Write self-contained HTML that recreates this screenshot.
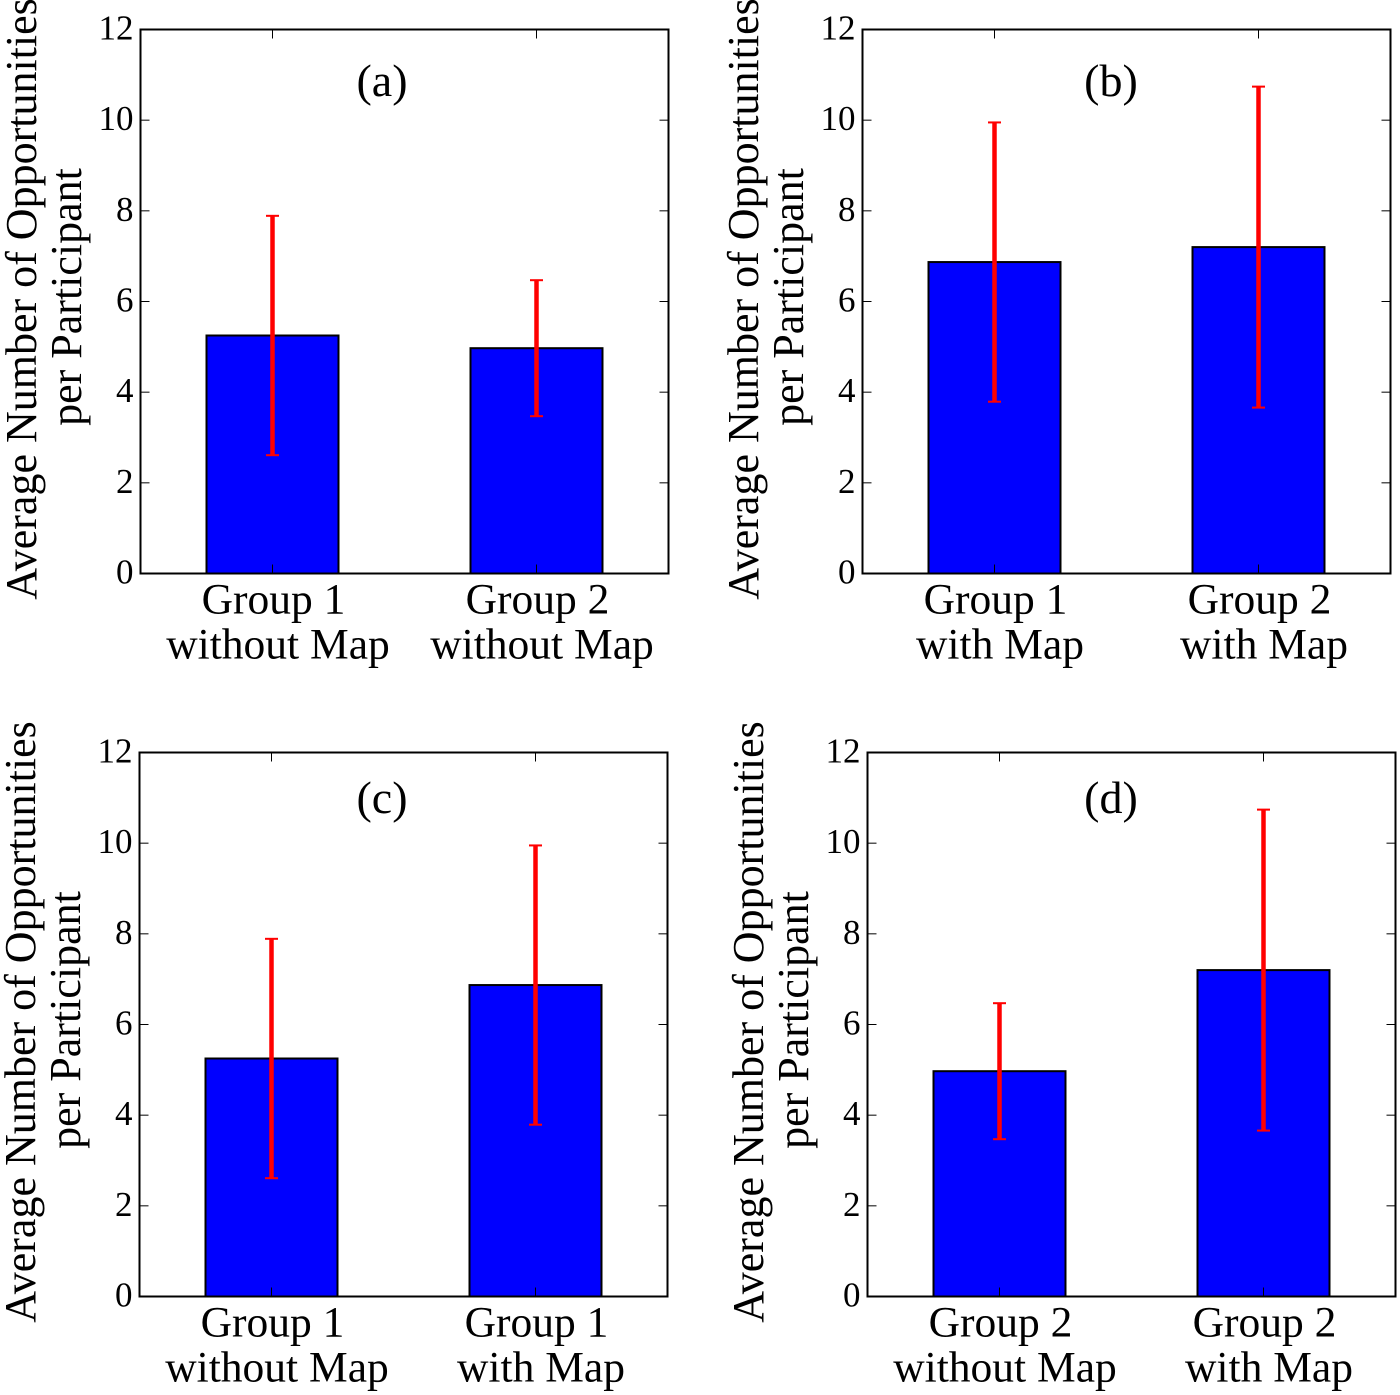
<!DOCTYPE html>
<html>
<head>
<meta charset="utf-8">
<title>Average Number of Opportunities per Participant</title>
<style>
html,body{margin:0;padding:0;background:#fff;width:1400px;height:1395px;overflow:hidden}
svg{display:block}
text{font-family:"Liberation Serif","Times New Roman",serif;fill:#000}
</style>
</head>
<body>
<svg id="chart" xmlns="http://www.w3.org/2000/svg" width="1400" height="1395" viewBox="0 0 1400 1395"></svg>
<script>
// ----- data -----
const panelIds = ['a', 'b', 'c', 'd'];
const categoriesA = [['Group 1', 'without Map'], ['Group 2', 'without Map']];
const categoriesB = [['Group 1', 'with Map'], ['Group 2', 'with Map']];
const categoriesC = [['Group 1', 'without Map'], ['Group 1', 'with Map']];
const categoriesD = [['Group 2', 'without Map'], ['Group 2', 'with Map']];
const meansA = [5.25, 4.97];
const meansB = [6.87, 7.2];
const meansC = [5.25, 6.87];
const meansD = [4.97, 7.2];
const errorsA = [2.64, 1.5];
const errorsB = [3.08, 3.54];
const errorsC = [2.64, 3.08];
const errorsD = [1.5, 3.54];
const yTicks = [0, 2, 4, 6, 8, 10, 12];
const yLabelLines = ['Average Number of Opportunities', 'per Participant'];

const allCategories = [categoriesA, categoriesB, categoriesC, categoriesD];
const allMeans = [meansA, meansB, meansC, meansD];
const allErrors = [errorsA, errorsB, errorsC, errorsD];

// ----- layout -----
const frames = [
  {left: 140.5, top: 29.5, titleX: 382, titleY: 96},
  {left: 862.5, top: 29.5, titleX: 1111, titleY: 96},
  {left: 139.5, top: 752.5, titleX: 382, titleY: 813},
  {left: 867.5, top: 752.5, titleX: 1111, titleY: 813}
];
const plotW = 528, plotH = 544;
const xMin = -0.5, xMax = 1.5, yMin = 0, yMax = 12, barWidth = 0.5;
const svg = document.getElementById('chart');
const NS = 'http://www.w3.org/2000/svg';

function make(tag, attrs, parent, txt) {
  const el = document.createElementNS(NS, tag);
  for (const k in attrs) el.setAttribute(k, attrs[k]);
  if (txt !== undefined) el.textContent = txt;
  parent.appendChild(el);
  return el;
}

panelIds.forEach(function (id, p) {
  const f = frames[p];
  const cats = allCategories[p], means = allMeans[p], errs = allErrors[p];
  const xs = function (v) { return f.left + (v - xMin) / (xMax - xMin) * plotW; };
  const ys = function (v) { return f.top + plotH - (v - yMin) / (yMax - yMin) * plotH; };
  const bottom = ys(yMin), top = ys(yMax), left = xs(xMin), right = xs(xMax);

  const g = make('g', {}, svg);
  
  

  means.forEach(function (m, i) {
    const x0 = xs(i - barWidth / 2), x1 = xs(i + barWidth / 2);
    const bar = make('rect', {x: x0, y: ys(m), width: x1 - x0, height: bottom - ys(m), fill: '#0000ff', stroke: '#000', 'stroke-width': 2}, g);
    
    
  });

  const frame = make('rect', {x: left, y: top, width: right - left, height: bottom - top, fill: 'none', stroke: '#000', 'stroke-width': 2}, g);
  
  

  yTicks.forEach(function (t) {
    const y = ys(t);
    const tl = make('line', {x1: left, x2: left + 9, y1: y, y2: y, stroke: '#000', 'stroke-width': 1}, g);
    
    
    const tr = make('line', {x1: right - 9, x2: right, y1: y, y2: y, stroke: '#000', 'stroke-width': 1}, g);
    
    
    const lab = make('text', {x: left - 7, y: y + 10, 'text-anchor': 'end', 'font-size': 35}, g, String(t));
    
    
  });

  cats.forEach(function (c, i) {
    const x = xs(i);
    const tb = make('line', {x1: x, x2: x, y1: bottom, y2: bottom - 9, stroke: '#000', 'stroke-width': 1}, g);
    
    
    const tt = make('line', {x1: x, x2: x, y1: top, y2: top + 9, stroke: '#000', 'stroke-width': 1}, g);
    
    
    const l1 = make('text', {x: x + 1, y: bottom + 40, 'text-anchor': 'middle', 'font-size': 43.5}, g, c[0]);
    
    
    const l2 = make('text', {x: x + 5.5, y: bottom + 85, 'text-anchor': 'middle', 'font-size': 43.5}, g, c[1]);
    
    
  });

  means.forEach(function (m, i) {
    const x = xs(i), hi = ys(m + errs[i]), lo = ys(m - errs[i]);
    const stem = make('line', {x1: x, x2: x, y1: hi, y2: lo, stroke: '#ff0000', 'stroke-width': 4.5}, g);
    
    
    const capHi = make('line', {x1: x - 6.5, x2: x + 6.5, y1: hi, y2: hi, stroke: '#ff0000', 'stroke-width': 2}, g);
    
    
    const capLo = make('line', {x1: x - 6.5, x2: x + 6.5, y1: lo, y2: lo, stroke: '#ff0000', 'stroke-width': 2}, g);
    
    
  });

  const title = make('text', {x: f.titleX, y: f.titleY, 'text-anchor': 'middle', 'font-size': 46}, g, '(' + id + ')');
  
  

  const cx1 = f.left - 104.5, cx2 = f.left - 59.5;
  const cy1 = f.top + 269.5, cy2 = f.top + 267.5;
  const yl1 = make('text', {x: cx1, y: cy1, 'text-anchor': 'middle', 'font-size': 44, transform: 'rotate(-90 ' + cx1 + ' ' + cy1 + ')'}, g, yLabelLines[0]);
  
  
  const yl2 = make('text', {x: cx2, y: cy2, 'text-anchor': 'middle', 'font-size': 44, transform: 'rotate(-90 ' + cx2 + ' ' + cy2 + ')'}, g, yLabelLines[1]);
  
  
});
</script>
</body>
</html>
